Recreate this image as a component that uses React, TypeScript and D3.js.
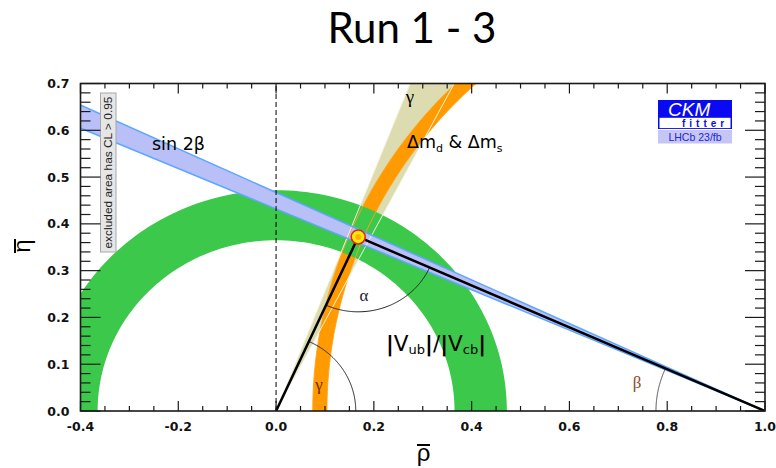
import { useEffect, useRef } from "react";
import * as d3 from "d3";

// axis ticks
const rhoMajor = [-0.4, -0.2, 0.0, 0.2, 0.4, 0.6, 0.8, 1.0];
const etaMajor = [0.0, 0.1, 0.2, 0.3, 0.4, 0.5, 0.6, 0.7];
const rhoMinorStep = 0.05;
const etaMinorStep = 0.02;

// fitted apex of the unitarity triangle
const apex = { rho: 0.168, eta: 0.372 };

// sin 2beta band: tan(beta) of the two edges, lines through (1,0)
const sin2bSlopes = [0.432, 0.467];
// gamma band: edge angles (deg) seen from the origin
const gammaAngles = [62.5, 68.6];
// |Vub|/|Vcb| ring around (0,0)
const vubRadii = [0.365, 0.472];
// dm_d & dm_s ring, centre on the rho axis
const dmCentre = 1.06;
const dmRadii = [0.956, 0.985];
// radii of the angle arcs
const arcRadii = { alpha: 0.16, beta: 0.223, gamma: 0.163 };

type Pt = [number, number];

export default function App() {
  const ref = useRef<SVGSVGElement | null>(null);

  useEffect(() => {
    const svg = d3.select(ref.current);
    svg.selectAll("*").remove();

    const x = d3.scaleLinear().domain([-0.4, 1.0]).range([80.5, 765]);
    const y = d3.scaleLinear().domain([0, 0.7]).range([411, 83.5]);
    const line = d3.line<Pt>().x(d => x(d[0])).y(d => y(d[1]));
    const rad = Math.PI / 180;
    const arc = (cx: number, cy: number, r: number, a0: number, a1: number, n = 120): Pt[] =>
      d3.range(n + 1).map(i => {
        const a = (a0 + ((a1 - a0) * i) / n) * rad;
        return [cx + r * Math.cos(a), cy + r * Math.sin(a)] as Pt;
      });

    // title
    svg.append("text")
      .attr("x", 412).attr("y", 43)
      .attr("text-anchor", "middle")
      .attr("font-family", "Lato, 'Open Sans', sans-serif")
      .attr("font-size", 42)
      .attr("fill", "#000")
      .text("Run 1 - 3");

    const x0 = x(-0.4), x1 = x(1.0), y0 = y(0), y1 = y(0.7);
    svg.append("defs").append("clipPath").attr("id", "frame")
      .append("rect").attr("x", x0).attr("y", y1).attr("width", x1 - x0).attr("height", y0 - y1);

    const plot = svg.append("g").attr("clip-path", "url(#frame)");

    // gamma wedge
    const wedge: Pt[] = [[0, 0], ...gammaAngles.map(a => [2 * Math.cos(a * rad), 2 * Math.sin(a * rad)] as Pt)];
    plot.append("path").attr("d", line(wedge) + "Z").attr("fill", "#dcdcb0");

    // dm ring
    const dmRing = [...arc(dmCentre, 0, dmRadii[1], 30, 180), ...arc(dmCentre, 0, dmRadii[0], 180, 30)];
    plot.append("path").attr("d", line(dmRing) + "Z").attr("fill", "#ff9a00");

    // |Vub|/|Vcb| ring
    const vubRing = [...arc(0, 0, vubRadii[1], 0, 180), ...arc(0, 0, vubRadii[0], 180, 0)];
    plot.append("path").attr("d", line(vubRing) + "Z").attr("fill", "#3cc84b");

    // sin 2beta band
    const band: Pt[] = [[1, 0], [-1, 2 * sin2bSlopes[0]], [-1, 2 * sin2bSlopes[1]]];
    plot.append("path").attr("d", line(band) + "Z").attr("fill", "#b9c0f8");

    // band contours
    dmRadii.forEach(r => {
      plot.append("path").attr("d", line(arc(dmCentre, 0, r, 30, 180)))
        .attr("fill", "none").attr("stroke", "#ffa31a").attr("stroke-width", 0.9);
    });
    gammaAngles.forEach(a => {
      plot.append("path").attr("d", line([[0, 0], [2 * Math.cos(a * rad), 2 * Math.sin(a * rad)]]))
        .attr("fill", "none").attr("stroke", "#f2f2dc").attr("stroke-width", 1);
    });
    sin2bSlopes.forEach(s => {
      plot.append("path").attr("d", line([[1, 0], [-1, 2 * s]]))
        .attr("fill", "none").attr("stroke", "#5ea6ff").attr("stroke-width", 1.5);
    });

    // rho = 0 dashed line
    plot.append("path").attr("d", line([[0, 0], [0, 0.7]]))
      .attr("stroke", "#000").attr("stroke-width", 1).attr("stroke-dasharray", "5,3");

    // angle arcs
    const aLeft = Math.atan2(-apex.eta, -apex.rho) / rad;
    const aRight = Math.atan2(-apex.eta, 1 - apex.rho) / rad;
    const gam = Math.atan2(apex.eta, apex.rho) / rad;
    const bet = 180 - Math.atan2(apex.eta, 1 - apex.rho) / rad;
    plot.append("path").attr("d", line(arc(apex.rho, apex.eta, arcRadii.alpha, aLeft, aRight)))
      .attr("fill", "none").attr("stroke", "#222").attr("stroke-width", 1);
    plot.append("path").attr("d", line(arc(0, 0, arcRadii.gamma, 0, gam)))
      .attr("fill", "none").attr("stroke", "#222").attr("stroke-width", 1);
    plot.append("path").attr("d", line(arc(1, 0, arcRadii.beta, bet, 180)))
      .attr("fill", "none").attr("stroke", "#444").attr("stroke-width", 1);

    // triangle
    plot.append("path").attr("d", line([[0, 0], [apex.rho, apex.eta], [1, 0]]))
      .attr("fill", "none").attr("stroke", "#000").attr("stroke-width", 2.5).attr("stroke-linejoin", "round");

    // apex
    plot.append("circle").attr("cx", x(apex.rho)).attr("cy", y(apex.eta)).attr("r", 7)
      .attr("fill", "#ffee00").attr("stroke", "#e8221c").attr("stroke-width", 1.6);
    plot.append("circle").attr("cx", x(apex.rho)).attr("cy", y(apex.eta)).attr("r", 3)
      .attr("fill", "#ffb000");

    // plot labels
    const sans = "'DejaVu Sans', sans-serif";
    const serif = "'Liberation Serif', serif";
    svg.append("text").attr("x", 152).attr("y", 150).attr("font-family", sans).attr("font-size", 17.5)
      .text("sin 2β");
    svg.append("text").attr("x", 410).attr("y", 103).attr("text-anchor", "middle")
      .attr("font-family", serif).attr("font-size", 19).text("γ");
    svg.append("text").attr("x", 364).attr("y", 301).attr("text-anchor", "middle")
      .attr("font-family", serif).attr("font-size", 17).attr("fill", "#1b1b3a").text("α");
    svg.append("text").attr("x", 319).attr("y", 390).attr("text-anchor", "middle")
      .attr("font-family", serif).attr("font-size", 17).attr("fill", "#6b2c00").text("γ");
    svg.append("text").attr("x", 637).attr("y", 388).attr("text-anchor", "middle")
      .attr("font-family", serif).attr("font-size", 17).attr("fill", "#8b4a2b").text("β");

    const dm = svg.append("text").attr("x", 407).attr("y", 148).attr("font-family", sans).attr("font-size", 17.5);
    dm.append("tspan").text("Δm");
    dm.append("tspan").attr("font-size", 11).attr("dy", 4).text("d");
    dm.append("tspan").attr("dy", -4).text(" & Δm");
    dm.append("tspan").attr("font-size", 11).attr("dy", 4).text("s");

    const vub = svg.append("text").attr("x", 386).attr("y", 351).attr("font-family", sans).attr("font-size", 21.5);
    vub.append("tspan").attr("font-weight", "bold").text("|");
    vub.append("tspan").text("V");
    vub.append("tspan").attr("font-size", 13).attr("dy", 3).text("ub");
    vub.append("tspan").attr("font-weight", "bold").attr("dy", -3).text("|");
    vub.append("tspan").text("/");
    vub.append("tspan").attr("font-weight", "bold").text("|");
    vub.append("tspan").text("V");
    vub.append("tspan").attr("font-size", 13).attr("dy", 3).text("cb");
    vub.append("tspan").attr("font-weight", "bold").attr("dy", -3).text("|");

    // excluded area note
    svg.append("rect").attr("x", 100.5).attr("y", 93).attr("width", 15.5).attr("height", 159)
      .attr("fill", "#e6e6e6").attr("stroke", "#a8a8a8").attr("stroke-width", 1);
    svg.append("text").attr("transform", "translate(112,172.5) rotate(-90)")
      .attr("text-anchor", "middle").attr("font-family", "'Liberation Sans', sans-serif").attr("font-size", 11)
      .attr("textLength", 152).attr("lengthAdjust", "spacingAndGlyphs").attr("fill", "#222")
      .text("excluded area has CL > 0.95");

    // CKMfitter logo
    const logo = svg.append("g");
    logo.append("rect").attr("x", 658).attr("y", 100).attr("width", 74).attr("height", 29).attr("fill", "#0a0af2");
    logo.append("rect").attr("x", 659.5).attr("y", 117.8).attr("width", 71).attr("height", 10.3).attr("fill", "#fff");
    logo.append("text").attr("x", 668).attr("y", 115.5).attr("font-family", "'Liberation Sans', sans-serif")
      .attr("font-style", "italic").attr("font-size", 19).attr("fill", "#fff").text("CKM");
    logo.append("text").attr("x", 682).attr("y", 127.3).attr("font-family", "'Liberation Sans', sans-serif")
      .attr("font-weight", "bold").attr("font-size", 10).attr("letter-spacing", 4).attr("fill", "#0a0af2").text("fitter");
    logo.append("rect").attr("x", 658).attr("y", 130).attr("width", 74).attr("height", 13.5).attr("fill", "#c6c6f4");
    logo.append("text").attr("x", 695).attr("y", 141.3).attr("text-anchor", "middle")
      .attr("font-family", "'Liberation Sans', sans-serif").attr("font-size", 10.5).attr("fill", "#2424d8").text("LHCb 23/fb");

    // frame and ticks
    const axes = svg.append("g").attr("stroke", "#1a1a1a").attr("stroke-width", 1.2);
    const rhoMinor = d3.range(-0.4, 1.0001, rhoMinorStep).filter(v => !rhoMajor.some(m => Math.abs(m - v) < 1e-6));
    const etaMinor = d3.range(0, 0.7001, etaMinorStep).filter(v => !etaMajor.some(m => Math.abs(m - v) < 1e-6));
    rhoMajor.forEach(v => {
      axes.append("line").attr("x1", x(v)).attr("x2", x(v)).attr("y1", y0).attr("y2", y0 - 10);
      axes.append("line").attr("x1", x(v)).attr("x2", x(v)).attr("y1", y1).attr("y2", y1 + 10);
    });
    rhoMinor.forEach(v => {
      axes.append("line").attr("x1", x(v)).attr("x2", x(v)).attr("y1", y0).attr("y2", y0 - 5);
      axes.append("line").attr("x1", x(v)).attr("x2", x(v)).attr("y1", y1).attr("y2", y1 + 5);
    });
    etaMajor.forEach(v => {
      axes.append("line").attr("y1", y(v)).attr("y2", y(v)).attr("x1", x0).attr("x2", x0 + 20);
      axes.append("line").attr("y1", y(v)).attr("y2", y(v)).attr("x1", x1).attr("x2", x1 - 20);
    });
    etaMinor.forEach(v => {
      axes.append("line").attr("y1", y(v)).attr("y2", y(v)).attr("x1", x0).attr("x2", x0 + 10);
      axes.append("line").attr("y1", y(v)).attr("y2", y(v)).attr("x1", x1).attr("x2", x1 - 10);
    });
    axes.append("rect").attr("x", x0).attr("y", y1).attr("width", x1 - x0).attr("height", y0 - y1)
      .attr("fill", "none").attr("stroke-width", 1.6);

    const fmt = (v: number) => v.toFixed(1);
    const tickFont = "'DejaVu Sans', sans-serif";
    svg.append("g").selectAll("text").data(rhoMajor).enter().append("text")
      .attr("x", d => x(d)).attr("y", 431).attr("text-anchor", "middle")
      .attr("font-family", tickFont).attr("font-weight", "bold").attr("font-size", 12.5).attr("fill", "#111")
      .text(fmt);
    svg.append("g").selectAll("text").data(etaMajor).enter().append("text")
      .attr("x", 69.5).attr("y", d => y(d) + 4.6).attr("text-anchor", "end")
      .attr("font-family", tickFont).attr("font-weight", "bold").attr("font-size", 12.5).attr("fill", "#111")
      .text(fmt);

    // axis titles
    svg.append("text").attr("x", 423.5).attr("y", 461).attr("text-anchor", "middle")
      .attr("font-family", "'Liberation Sans', sans-serif").attr("font-size", 24).text("ρ");
    svg.append("line").attr("x1", 417).attr("x2", 430).attr("y1", 445).attr("y2", 445)
      .attr("stroke", "#000").attr("stroke-width", 2);
    svg.append("text").attr("transform", "translate(30,246) rotate(-90)").attr("text-anchor", "middle")
      .attr("font-family", "'Liberation Sans', sans-serif").attr("font-size", 24).text("η");
    svg.append("line").attr("x1", 15).attr("x2", 15).attr("y1", 239).attr("y2", 253)
      .attr("stroke", "#000").attr("stroke-width", 2);
  }, []);

  return (
    <svg ref={ref} width={776} height={468}
      style={{ position: "absolute", left: 0, top: 0, background: "#fff" }} />
  );
}
